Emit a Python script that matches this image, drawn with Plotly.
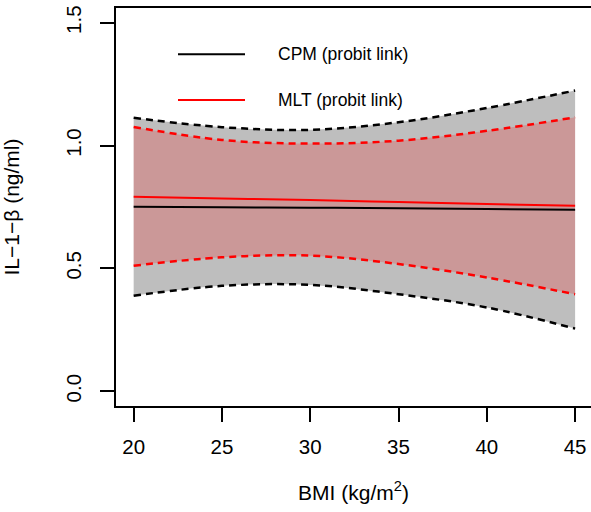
import plotly.graph_objects as go

# Data
bmi = [20, 25, 30, 35, 40, 45]
cpm_mean = [0.751, 0.749, 0.747, 0.745, 0.742, 0.739]
cpm_upper = [1.113, 1.075, 1.064, 1.095, 1.153, 1.224]
cpm_lower = [0.389, 0.429, 0.433, 0.395, 0.341, 0.255]
mlt_mean = [0.792, 0.785, 0.778, 0.770, 0.762, 0.755]
mlt_upper = [1.076, 1.023, 1.008, 1.020, 1.060, 1.115]
mlt_lower = [0.511, 0.545, 0.552, 0.518, 0.463, 0.395]

x_ticks = [20, 25, 30, 35, 40, 45]
y_ticks = [0.0, 0.5, 1.0, 1.5]
y_tick_text = ["0.0", "0.5", "1.0", "1.5"]
legend_labels = ["CPM (probit link)", "MLT (probit link)"]

FONT = "Liberation Sans, Arial, Helvetica, sans-serif"
DASH = "7px,5px"

fig = go.Figure()

# Gray CPM band
fig.add_trace(go.Scatter(x=bmi, y=cpm_lower, mode="lines", line=dict(width=0, shape="spline"),
                         showlegend=False, hoverinfo="skip"))
fig.add_trace(go.Scatter(x=bmi, y=cpm_upper, mode="lines", line=dict(width=0, shape="spline"),
                         fill="tonexty", fillcolor="rgb(190,190,190)", showlegend=False, hoverinfo="skip"))
# Red MLT band (transparent red over gray)
fig.add_trace(go.Scatter(x=bmi, y=mlt_lower, mode="lines", line=dict(width=0, shape="spline"),
                         showlegend=False, hoverinfo="skip"))
fig.add_trace(go.Scatter(x=bmi, y=mlt_upper, mode="lines", line=dict(width=0, shape="spline"),
                         fill="tonexty", fillcolor="rgba(255,0,0,0.2)", showlegend=False, hoverinfo="skip"))

# Dashed bounds
for yy, col in [(cpm_upper, "black"), (cpm_lower, "black"), (mlt_upper, "red"), (mlt_lower, "red")]:
    fig.add_trace(go.Scatter(x=bmi, y=yy, mode="lines",
                             line=dict(color=col, width=2.5, dash=DASH, shape="spline"),
                             showlegend=False))

# Mean curves
fig.add_trace(go.Scatter(x=bmi, y=mlt_mean, mode="lines", line=dict(color="red", width=2, shape="spline"),
                         showlegend=False))
fig.add_trace(go.Scatter(x=bmi, y=cpm_mean, mode="lines", line=dict(color="black", width=2, shape="spline"),
                         showlegend=False))

L, R, T, B = 116, 591, 8, 406
W, H = 591, 512

def px(xp):
    return (xp - L) / (R - L)

def py(yp):
    return (B - yp) / (B - T)

# Legend drawn manually
for i, (col, ypix) in enumerate([("black", 54.3), ("red", 100)]):
    fig.add_shape(type="line", xref="paper", yref="paper",
                  x0=px(178), x1=px(245), y0=py(ypix), y1=py(ypix),
                  line=dict(color=col, width=2))
    fig.add_annotation(xref="paper", yref="paper", x=px(276), y=py(ypix),
                       text=legend_labels[i], showarrow=False, xanchor="left", yanchor="middle",
                       font=dict(family=FONT, size=17.5, color="black"))

fig.update_layout(
    width=W, height=H,
    margin=dict(l=L, r=W - R, t=T, b=H - B, pad=0),
    plot_bgcolor="white", paper_bgcolor="white",
    font=dict(family=FONT, color="black"),
    xaxis=dict(range=[19, 45.9], tickvals=x_ticks, ticks="outside", ticklen=14, tickwidth=1.5,
               tickcolor="black", showline=True, linecolor="black", linewidth=2, mirror=True,
               showgrid=False, zeroline=False, tickfont=dict(size=20.5, family=FONT),
               ticklabelstandoff=7,
               title=dict(text="BMI (kg/m<sup>2</sup>)", font=dict(size=21, family=FONT), standoff=29)),
    yaxis=dict(range=[-0.06, 1.56], tickvals=y_ticks, ticktext=y_tick_text, ticks="outside", ticklen=14,
               tickwidth=1.5, tickcolor="black", showline=True, linecolor="black", linewidth=2,
               mirror=False, showgrid=False, zeroline=False, tickangle=-90,
               tickfont=dict(size=20.5, family=FONT), ticklabelstandoff=11,
               title=dict(text="IL−1−β (ng/ml)", font=dict(size=21, family=FONT), standoff=37)),
)

fig.write_html("out.html")
